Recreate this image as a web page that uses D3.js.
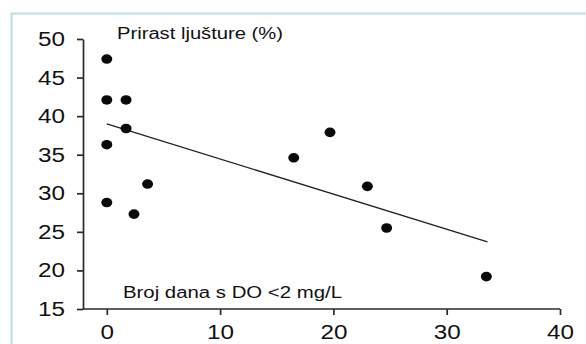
<!DOCTYPE html>
<html>
<head>
<meta charset="utf-8">
<script src="https://cdn.jsdelivr.net/npm/d3@7"></script>
<style>
  body { margin: 0; background: #fff; }
  svg { display: block; }
  text { font-family: "Liberation Sans", Arial, sans-serif; fill: #111; }
</style>
</head>
<body>
<svg id="chart" width="586" height="344"></svg>
<script>
// days with DO < 2 mg/L vs shell growth (%)
const daysLow = [0, 0, 1.7, 1.7, 0, 3.6, 0, 2.4, 16.5, 19.7, 23.0, 24.7, 33.5];
const growth  = [47.4, 42.1, 42.1, 38.4, 36.3, 31.2, 28.8, 27.3, 34.6, 37.9, 30.9, 25.5, 19.2];
const trendX = [0, 33.6];
const trendY = [39.0, 23.7];
const xTicks = [0, 10, 20, 30, 40];
const yTicks = [15, 20, 25, 30, 35, 40, 45, 50];
const titleY = "Prirast ljušture (%)";
const titleX = "Broj dana s DO <2 mg/L";

const svg = d3.select("#chart");

// light blue frame
svg.append("path")
  .attr("d", "M11.5,344 V13.5 H586")
  .attr("fill", "none")
  .attr("stroke", "#b9dde5")
  .attr("stroke-width", 2);

const x = d3.scaleLinear().domain([-2.1, 40]).range([83, 560]);
const y = d3.scaleLinear().domain([15, 50]).range([309, 39]);

const xAxis = svg.append("g")
  .attr("transform", "translate(0,309)")
  .call(d3.axisBottom(x).tickValues(xTicks).tickSize(6).tickSizeOuter(0).tickPadding(9));

const yAxis = svg.append("g")
  .attr("transform", "translate(83,0)")
  .call(d3.axisLeft(y).tickValues(yTicks).tickSize(6).tickSizeOuter(0).tickPadding(12));

[xAxis, yAxis].forEach(g => {
  g.select(".domain").attr("stroke", "#2a2a2a").attr("stroke-width", 1.7);
  g.selectAll(".tick line").attr("stroke", "#2a2a2a").attr("stroke-width", 1.7);
  g.selectAll(".tick text")
    .attr("font-size", 20.5)
    .attr("font-family", "Liberation Sans, Arial, sans-serif")
    .attr("fill", "#161616")
    // the source lettering is a bit wider than Arial
    .attr("textLength", function () { return this.textContent.length * 13.5; })
    .attr("lengthAdjust", "spacingAndGlyphs");
});
// x axis line only spans from y axis to 40
xAxis.select(".domain").attr("d", `M${x(-2.1)},0H${x(40)}`);

// trend line
svg.append("line")
  .attr("x1", x(trendX[0])).attr("y1", y(trendY[0]))
  .attr("x2", x(trendX[1])).attr("y2", y(trendY[1]))
  .attr("stroke", "#222")
  .attr("stroke-width", 1.4);

// points
svg.append("g").selectAll("ellipse")
  .data(daysLow.map((d, i) => [d, growth[i]]))
  .join("ellipse")
  .attr("cx", d => x(d[0]))
  .attr("cy", d => y(d[1]))
  .attr("rx", 5.5)
  .attr("ry", 4.8)
  .attr("fill", "#0a0a0a");

svg.append("text")
  .attr("x", 117).attr("y", 39)
  .attr("font-size", 16)
  .attr("textLength", 166)
  .attr("lengthAdjust", "spacingAndGlyphs")
  .text(titleY);

svg.append("text")
  .attr("x", 123).attr("y", 298)
  .attr("font-size", 16)
  .attr("textLength", 219)
  .attr("lengthAdjust", "spacingAndGlyphs")
  .text(titleX);
</script>
</body>
</html>
